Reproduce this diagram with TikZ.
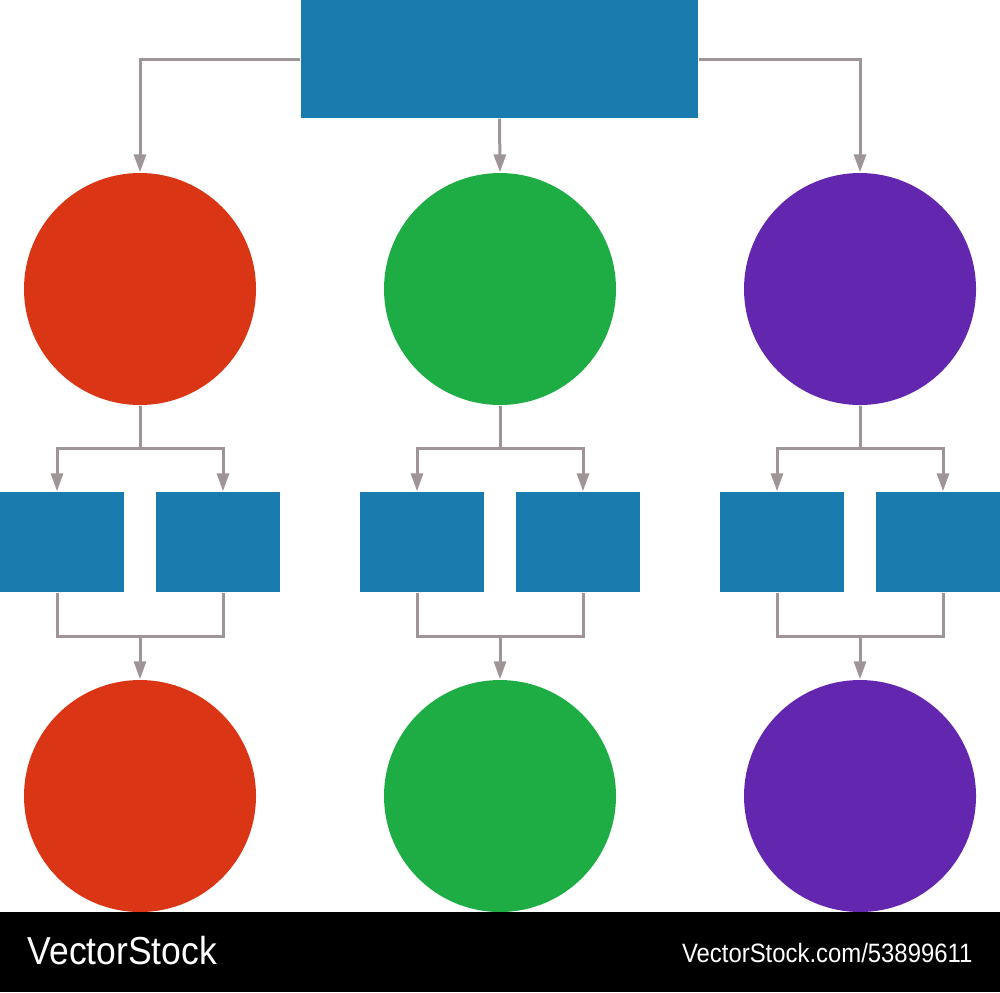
\documentclass[tikz,border=0pt]{standalone}
\usepackage{fontspec}
\setmainfont{Liberation Sans}
\usetikzlibrary{arrows.meta}

\definecolor{boxblue}{HTML}{1A7BAE}
\definecolor{discred}{HTML}{DA3514}
\definecolor{discgreen}{HTML}{1EAC45}
\definecolor{discpurple}{HTML}{6326AE}
\definecolor{linegray}{HTML}{9F9496}

\begin{document}
\begin{tikzpicture}[
	link/.style={draw=linegray, line width=0.03cm},
	arr/.style={link, -{Triangle[length=0.18cm,width=0.12cm]}},
	bigbox/.style={fill=boxblue, minimum width=3.97cm, minimum height=1.18cm, inner sep=0},
	smallbox/.style={fill=boxblue, minimum width=1.24cm, minimum height=1cm, inner sep=0},
	disc/.style={circle, fill=#1, minimum size=2.32cm, inner sep=0}]
\useasboundingbox (0,0) rectangle (10,-9.92);

% top box
\node[bigbox] (top) at (4.995,-0.59) {};

% three columns
\foreach \i/\x/\col in {1/1.40/discred, 2/5.00/discgreen, 3/8.60/discpurple} {
	\node[disc=\col] (c\i) at (\x,-2.89) {};
	\node[smallbox] (l\i) at (\x-0.78,-5.42) {};
	\node[smallbox] (r\i) at (\x+0.78,-5.42) {};
	\node[disc=\col] (d\i) at (\x,-7.96) {};
	\coordinate (s\i) at (\x,-4.48);
	\coordinate (j\i) at (\x,-6.36);
	
	\draw[link] (c\i) -- (s\i);
	\draw[arr] (s\i) -| ([xshift=-0.05cm]l\i.north);
	\draw[arr] (s\i) -| ([xshift=0.05cm]r\i.north);
	\draw[link] ([xshift=-0.05cm]l\i.south) |- (j\i) -| ([xshift=0.05cm]r\i.south);
	\draw[arr] (j\i) -- (d\i);
}

\draw[arr] (top.west) -| (c1.north);
\draw[arr] (top.south) -- (c2.north);
\draw[arr] (top.east) -| (c3.north);

% footer bar
\fill[black] (0,-9.12) rectangle (10,-9.92);
\node[anchor=west, text=white, inner sep=0, xscale=0.91, font=\fontsize{11.1}{12}\selectfont]
	(brand) at (0.27,-9.51) {VectorStock};
\node[anchor=east, text=white, inner sep=0, xscale=0.9, font=\fontsize{7.55}{9}\selectfont]
	(ref) at (9.73,-9.53) {VectorStock.com/53899611};
\end{tikzpicture}
\end{document}
